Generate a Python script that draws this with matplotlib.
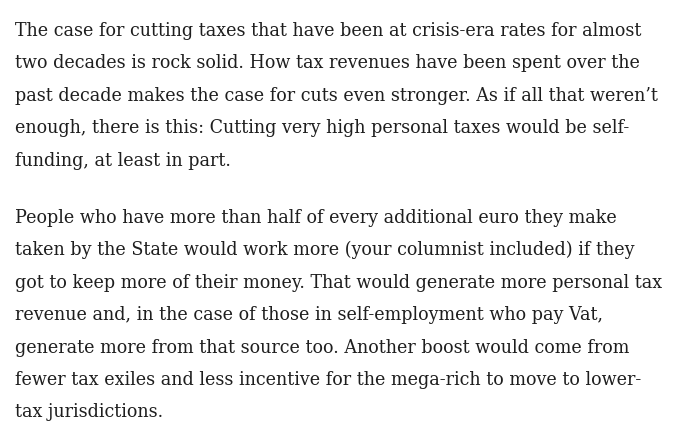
import matplotlib.pyplot as plt

para1 = [
    "The case for cutting taxes that have been at crisis-era rates for almost",
    "two decades is rock solid. How tax revenues have been spent over the",
    "past decade makes the case for cuts even stronger. As if all that weren\u2019t",
    "enough, there is this: Cutting very high personal taxes would be self-",
    "funding, at least in part.",
]
para2 = [
    "People who have more than half of every additional euro they make",
    "taken by the State would work more (your columnist included) if they",
    "got to keep more of their money. That would generate more personal tax",
    "revenue and, in the case of those in self-employment who pay Vat,",
    "generate more from that source too. Another boost would come from",
    "fewer tax exiles and less incentive for the mega-rich to move to lower-",
    "tax jurisdictions.",
]

W, H = 680, 441
fig = plt.figure(figsize=(W / 100, H / 100), dpi=100)
fig.patch.set_facecolor("white")

left = 15
line_gap = 32.4
starts = [36, 223]

for start, lines in zip(starts, [para1, para2]):
    for i, line in enumerate(lines):
        y = start + i * line_gap
        fig.text(left / W, 1 - y / H, line, family="DejaVu Serif",
                 fontsize=12.65, color="#1e1e1e", va="baseline", ha="left")

fig.savefig("out.png", dpi=100, facecolor="white")
